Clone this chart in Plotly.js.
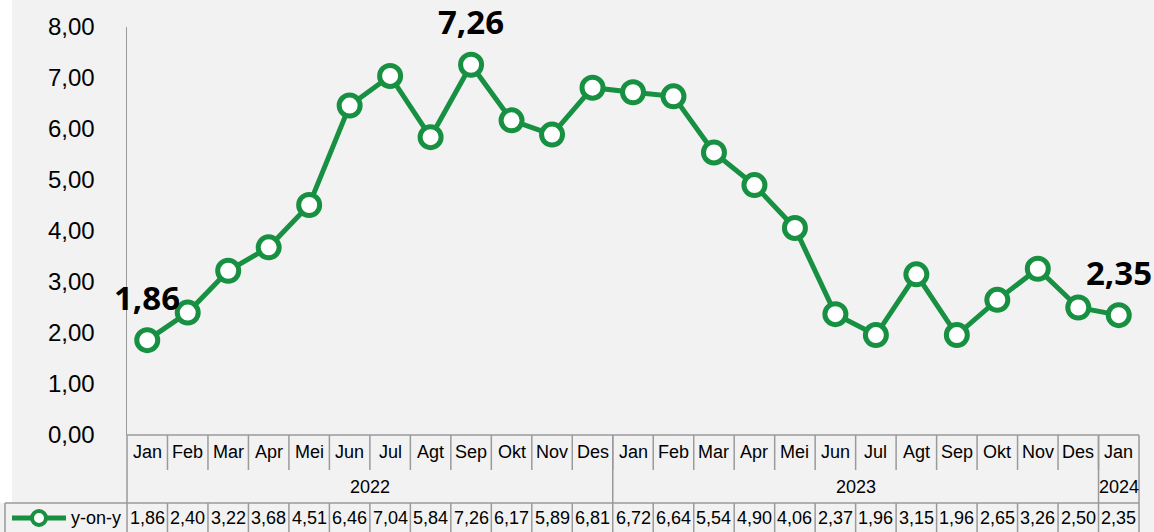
<!DOCTYPE html>
<html>
<head>
<meta charset="utf-8">
<script src="https://cdn.plot.ly/plotly-3.0.1.min.js"></script>
<style>
  html, body { margin: 0; padding: 0; background: #f2f2f2; }
  #chart { width: 1154px; height: 532px; }
</style>
</head>
<body>
<div id="chart"></div>
<script>
// ---- data ----
const months = ['Jan','Feb','Mar','Apr','Mei','Jun','Jul','Agt','Sep','Okt','Nov','Des',
                'Jan','Feb','Mar','Apr','Mei','Jun','Jul','Agt','Sep','Okt','Nov','Des','Jan'];
const yoy = [1.86,2.40,3.22,3.68,4.51,6.46,7.04,5.84,7.26,6.17,5.89,6.81,
             6.72,6.64,5.54,4.90,4.06,2.37,1.96,3.15,1.96,2.65,3.26,2.50,2.35];
const yearLabels = ['2022','2023','2024'];
const yearCounts = [12, 12, 1];
const seriesName = 'y-on-y';
const labelledPoints = [0, 8, 24];
const yTicks = [0,1,2,3,4,5,6,7,8];

// ---- layout geometry (pixels) ----
const W = 1154, H = 532;
const M = {l: 127, r: 15, t: 27, b: 97};
const plotH = H - M.t - M.b;           // 408
const plotW = W - M.l - M.r;           // 1012
const py = p => (H - M.b - p) / plotH; // pixel y -> paper y
const px = p => (p - M.l) / plotW;     // pixel x -> paper x

const GREEN = '#179042';
const GRID = '#9a9a9a';
const tableFont = {family: '"Liberation Sans", Arial, sans-serif', size: 18, color: '#000'};
const fmt = v => v.toFixed(2).replace('.', ',');

const xs = months.map((_, i) => i);

const trace = {
  x: xs, y: yoy, type: 'scatter', mode: 'lines+markers',
  name: seriesName,
  line: {color: GREEN, width: 5},
  marker: {size: 21, color: '#ffffff', line: {color: GREEN, width: 5}},
  cliponaxis: false,
  hoverinfo: 'skip'
};

const shapes = [];
const annotations = [];
const vline = (xref, x, y0, y1) => shapes.push({type: 'line', xref: xref, yref: 'paper', x0: x, x1: x, y0: y0, y1: y1, line: {color: GRID, width: 1.5}});
const hline = (x0, x1, y, xref) => shapes.push({type: 'line', xref: xref || 'paper', yref: 'paper', x0: x0, x1: x1, y0: y, y1: y, line: {color: GRID, width: 1.5}});

// white strip at far left
shapes.push({type: 'rect', xref: 'paper', yref: 'paper', x0: px(0), x1: px(12), y0: py(503), y1: py(0), fillcolor: '#ffffff', line: {width: 0}, layer: 'below'});

// table frame
hline(0, 1, py(435));             // top of table
hline(px(5), 1, py(503));         // top of value row
vline('paper', px(5), py(503), py(532));
vline('paper', 0, py(435), py(532));
vline('paper', 1, py(435), py(532));

// month separators and value row separators
for (let i = 1; i < months.length; i++) {
  vline('x', i - 0.5, py(435), py(470));
  vline('x', i - 0.5, py(503), py(532));
}
// year boundaries
let acc = 0;
yearLabels.forEach((lab, k) => {
  const start = acc, end = acc + yearCounts[k] - 1;
  acc += yearCounts[k];
  if (k > 0) vline('x', start - 0.5, py(435), py(503));
  annotations.push({xref: 'x', yref: 'paper', x: (start + end) / 2, y: py(487), text: lab,
    showarrow: false, font: tableFont, xanchor: 'center', yanchor: 'middle'});
});

months.forEach((m, i) => {
  annotations.push({xref: 'x', yref: 'paper', x: i, y: py(452), text: m,
    showarrow: false, font: tableFont, xanchor: 'center', yanchor: 'middle'});
  annotations.push({xref: 'x', yref: 'paper', x: i, y: py(518), text: fmt(yoy[i]),
    showarrow: false, font: tableFont, xanchor: 'center', yanchor: 'middle'});
});

// legend key in table
shapes.push({type: 'line', xref: 'paper', yref: 'paper', x0: px(12), x1: px(66), y0: py(518), y1: py(518), line: {color: GREEN, width: 5}});
shapes.push({type: 'circle', xref: 'paper', yref: 'paper', xsizemode: 'pixel', ysizemode: 'pixel',
  xanchor: px(39), yanchor: py(518), x0: -7, x1: 7, y0: -7, y1: 7,
  fillcolor: '#ffffff', line: {color: GREEN, width: 4}});
annotations.push({xref: 'paper', yref: 'paper', x: px(123), y: py(518), text: seriesName,
  showarrow: false, font: tableFont, xanchor: 'right', yanchor: 'middle'});

// data labels
labelledPoints.forEach(i => {
  annotations.push({xref: 'x', yref: 'y', x: i, y: yoy[i], text: '<b>' + fmt(yoy[i]) + '</b>',
    showarrow: false, yshift: 43, xanchor: 'center', yanchor: 'middle',
    font: {family: '"Open Sans", "Liberation Sans", Arial, sans-serif', size: 33, color: '#000'}});
});

const layout = {
  width: W, height: H,
  margin: M,
  paper_bgcolor: '#f2f2f2',
  plot_bgcolor: '#f2f2f2',
  separators: ',.',
  showlegend: false,
  xaxis: {
    range: [-0.5, months.length - 0.5],
    showticklabels: false, showgrid: false, zeroline: false, showline: false, ticks: '',
    fixedrange: true
  },
  yaxis: {
    range: [0, 8], tickvals: yTicks, tickformat: '.2f',
    showgrid: false, zeroline: false, showline: true, linecolor: GRID, linewidth: 1.5,
    ticks: '', ticklabelstandoff: 26,
    tickfont: {family: '"Liberation Sans", Arial, sans-serif', size: 24, color: '#000'},
    fixedrange: true
  },
  shapes: shapes,
  annotations: annotations
};

Plotly.newPlot('chart', [trace], layout, {displayModeBar: false, staticPlot: true});
</script>
</body>
</html>
